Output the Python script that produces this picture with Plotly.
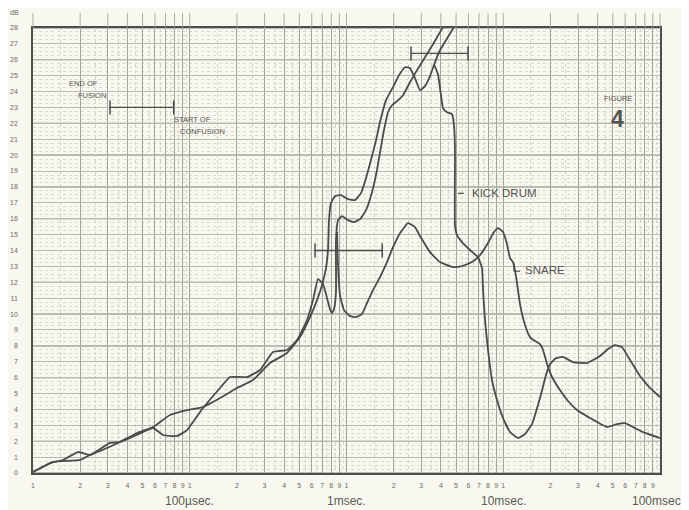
import math
import plotly.graph_objects as go

########### Data ######

# time in milliseconds, level in dB; None = pen lifted / off the chart
kick_ms = [0.010, 0.01342, 0.01995, 0.02310, 0.02966, 0.03589, 0.04609, 0.05832, 0.07482, 0.09605,
           0.1215, 0.1560, 0.2002, 0.2533, 0.3251, 0.4173, 0.5050, 0.5850, 0.6484, 0.6978,
           0.7400, 0.7621, 0.7733, 0.7963, 0.8444, 0.9224, 1.022, 1.133, 1.237, 1.332,
           1.433, 1.543, 1.636, 1.787, 1.980, 2.162, 2.362, 2.542, 2.735, 2.944,
           3.168, 3.410, 3.669, 3.949, 4.312, 4.710, 5.143,
           None,
           3.615, 3.834, 4.007, 4.127, 4.377, 4.710, 4.850, 4.922, 4.922, 5.069,
           5.457, 6.137, 6.903, 7.321, 7.428, 7.649, 7.993, 8.478, 9.123, 9.963,
           11.05, 12.42, 13.77, 15.26, 17.16, 18.74, 19.88, 21.71, 24.05, 27.86,
           34.22, 41.42, 46.60, 51.64, 57.21, 64.37, 74.54, 86.33, 100.0]
kick_db = [0.06, 0.69, 0.82, 1.13, 1.57, 1.95, 2.52, 2.89, 3.65, 3.96,
           4.15, 4.72, 5.35, 5.85, 6.92, 7.55, 8.55, 9.81, 10.88, 11.82,
           12.89, 14.03, 15.91, 16.98, 17.42, 17.48, 17.23, 17.17, 17.61, 18.55,
           19.69, 20.94, 22.08, 23.46, 24.28, 25.03, 25.53, 25.47, 24.84, 24.09,
           24.34, 24.97, 25.85, 26.60, 27.23, 27.86, 28.49,
           None,
           25.72, 25.09, 23.77, 22.96, 22.70, 22.58, 21.89, 20.31, 15.60, 14.97,
           14.53, 14.03, 13.58, 12.89, 11.51, 9.62, 7.74, 5.85, 4.59, 3.46,
           2.58, 2.20, 2.45, 3.08, 4.72, 6.16, 6.86, 7.23, 7.30, 6.98,
           6.92, 7.36, 7.80, 8.05, 7.92, 7.11, 6.10, 5.35, 4.78]

snare_ms = [0.010, 0.01284, 0.01554, 0.01937, 0.02310, 0.03099, 0.03589, 0.04157, 0.05832, 0.06752,
            0.08290, 0.09605, 0.1215, 0.1560, 0.1806, 0.2319, 0.2807, 0.3397, 0.4173, 0.4833,
            0.5598, 0.6114, 0.6580, 0.7081, 0.7509, 0.7847, 0.8081, 0.8322, 0.8570, 0.8570,
            0.8827, 0.9358, 1.022, 1.116, 1.219, 1.332, 1.454, 1.565, 1.710, 1.840,
            1.952, 2.100, 2.293, 2.542, 2.818, 3.168, 3.563, 3.949, 4.312,
            None,
            0.8700, 0.8827, 0.9090, 0.9640, 1.053, 1.150, 1.256, 1.351, 1.476, 1.636,
            1.813, 1.980, 2.194, 2.468, 2.735, 2.944, 3.410, 3.949, 4.780, 5.457,
            6.319, 7.109, 7.993, 8.730, 9.259, 9.963, 10.57, 11.05, 11.54, 12.06,
            12.79, 13.77, 14.81, 15.95, 17.16, 17.94, 19.02, 20.47, 23.01, 25.89,
            29.54, 35.76, 45.91, 53.19, 59.79, 67.27, 80.21, 100.0]
snare_db = [0.06, 0.63, 0.82, 1.32, 1.13, 1.89, 1.95, 2.20, 2.83, 2.39,
            2.33, 2.70, 4.09, 5.35, 6.04, 6.04, 6.48, 7.61, 7.74, 8.36,
            9.62, 10.88, 12.20, 11.89, 11.01, 10.31, 10.06, 10.31, 11.38, 14.65,
            15.91, 16.16, 15.91, 15.79, 15.97, 16.54, 17.67, 19.06, 21.26, 22.70,
            23.14, 23.40, 23.77, 24.59, 25.35, 26.16, 26.98, 27.74, 28.36,
            None,
            15.16, 13.08, 11.19, 10.25, 9.87, 9.81, 10.00, 10.69, 11.51, 12.33,
            13.27, 14.21, 15.09, 15.72, 15.47, 14.91, 13.90, 13.27, 12.96, 13.02,
            13.27, 13.71, 14.47, 15.16, 15.41, 15.16, 14.40, 13.52, 13.27, 12.39,
            10.63, 9.31, 8.55, 8.30, 8.11, 7.74, 6.86, 6.04, 5.22, 4.53,
            3.96, 3.46, 2.89, 3.08, 3.14, 2.89, 2.52, 2.20]

# range bars (fusion / confusion markers)
bar_lo_ms = [0.031, 0.63, 2.58]
bar_hi_ms = [0.079, 1.69, 5.96]
bar_db = [23.0, 14.0, 26.4]

decade_ms = [0.01, 0.1, 1, 10]
decade_labels = ['100\u00b5sec.', '1msec.', '10msec.', '100msec']
decade_label_ms = [0.1, 1, 10, 100]

x_tickvals = [d * k for d in decade_ms for k in range(1, 10)] + [100]
x_ticktext = [str(k) for d in decade_ms for k in range(1, 10)] + ['']
x_minorvals = [d * (k + 0.5) for d in decade_ms for k in range(1, 10)]

y_tickvals = list(range(0, 29))

x_log_range = [-2, 2]

########### Styles ######

ink = '#4b4b47'
paper = '#f8f8f1'
gridc = '#a4a49d'
label_font = 'Liberation Sans, Arial, sans-serif'

fig = go.Figure()

fig.add_trace(go.Scatter(x=kick_ms, y=kick_db, mode='lines', connectgaps=False,
                         line=dict(color=ink, width=1.8, shape='spline', smoothing=0.4),
                         showlegend=False, hoverinfo='skip'))
fig.add_trace(go.Scatter(x=snare_ms, y=snare_db, mode='lines', connectgaps=False,
                         line=dict(color=ink, width=1.8, shape='spline', smoothing=0.4),
                         showlegend=False, hoverinfo='skip'))

for lo, hi, db in zip(bar_lo_ms, bar_hi_ms, bar_db):
    fig.add_trace(go.Scatter(x=[lo, hi], y=[db, db], mode='lines+markers',
                             line=dict(color=ink, width=1.3),
                             marker=dict(symbol='line-ns', size=10, line=dict(color=ink, width=1.5)),
                             showlegend=False, hoverinfo='skip'))

shapes = []
# darker horizontal lines every 2 dB
for v in range(0, 29, 2):
    shapes.append(dict(type='line', xref='paper', x0=0, x1=1, yref='y', y0=v, y1=v,
                       line=dict(color='#7c7c76', width=1.1), layer='below'))
# short tick marks sticking out above the top frame (paper refs so they are not clipped)
for v in x_tickvals:
    px = (math.log10(v) - x_log_range[0]) / (x_log_range[1] - x_log_range[0])
    shapes.append(dict(type='line', xref='paper', x0=px, x1=px, yref='paper', y0=1.0, y1=1.034,
                       line=dict(color='#9a9a94', width=0.8)))
# leaders for the curve labels
shapes.append(dict(type='line', xref='x', yref='y', x0=5.14, x1=5.6, y0=17.6, y1=17.6,
                   line=dict(color=ink, width=1.2)))
shapes.append(dict(type='line', xref='x', yref='y', x0=11.7, x1=12.8, y0=12.7, y1=12.7,
                   line=dict(color=ink, width=1.2)))
shapes.append(dict(type='line', xref='x', yref='y', x0=11.7, x1=11.7, y0=12.7, y1=13.2,
                   line=dict(color=ink, width=1.2)))

annotations = []
for txt, v in zip(decade_labels, decade_label_ms):
    annotations.append(dict(text=txt, x=math.log10(v), xref='x', y=-0.062, yref='paper',
                            showarrow=False, xanchor='center', yanchor='middle',
                            xshift=-4 if v == 100 else 0,
                            font=dict(family=label_font, size=12, color='#5a5a55')))

def note(txt, x, y, size=7.5, anchor='left', bold=False):
    t = '<b>' + txt + '</b>' if bold else txt
    annotations.append(dict(text=t, x=x, y=y, xref='x', yref='y', showarrow=False,
                            xanchor=anchor, yanchor='middle',
                            font=dict(family=label_font, size=size, color='#55554f')))

note('END OF', -1.783, 24.53)
note('FUSION', -1.726, 23.77)
note('START OF', -1.113, 22.26)
note('CONFUSION', -1.075, 21.51)
note('FIGURE', 1.732, 23.58, anchor='center')
note('4', 1.732, 22.3, size=23, anchor='center', bold=True)
note('KICK DRUM', 0.79, 17.6, size=11.5)
note('SNARE', 1.126, 12.75, size=11.5)

annotations.append(dict(text='dB', x=-0.030, y=1.034, xref='paper', yref='paper', showarrow=False,
                        xanchor='center', yanchor='middle',
                        font=dict(family=label_font, size=7, color='#66665f')))

# the page body adds an 8px offset, so the figure is 8px smaller and margins shift
fig.update_layout(
    width=681, height=502,
    margin=dict(l=25, r=29, t=20, b=37, autoexpand=False),
    paper_bgcolor=paper, plot_bgcolor=paper,
    shapes=shapes, annotations=annotations,
    xaxis=dict(type='log', range=x_log_range, tickmode='array', tickvals=x_tickvals, ticktext=x_ticktext,
               showgrid=True, gridcolor=gridc, gridwidth=0.8, automargin=False,
               minor=dict(tickmode='array', tickvals=x_minorvals, showgrid=True,
                          gridcolor='#d3d3cb', griddash='dot', gridwidth=0.8),
               showline=True, mirror=True, linecolor='#4e4e4a', linewidth=1.6,
               ticks='', ticklabelstandoff=5, zeroline=False,
               tickfont=dict(family=label_font, size=7, color='#6a6a64')),
    yaxis=dict(range=[0, 28], tickmode='array', tickvals=y_tickvals, automargin=False,
               showgrid=True, gridcolor='#b9b9b2', gridwidth=0.7,
               minor=dict(dtick=0.25, showgrid=True, gridcolor='#dadad2', griddash='dot', gridwidth=0.7),
               showline=True, mirror=True, linecolor='#4e4e4a', linewidth=1.6,
               ticks='', ticklabelstandoff=12, zeroline=False,
               tickfont=dict(family=label_font, size=7, color='#6a6a64')),
    font=dict(family=label_font),
)

fig.write_html("out.html")
